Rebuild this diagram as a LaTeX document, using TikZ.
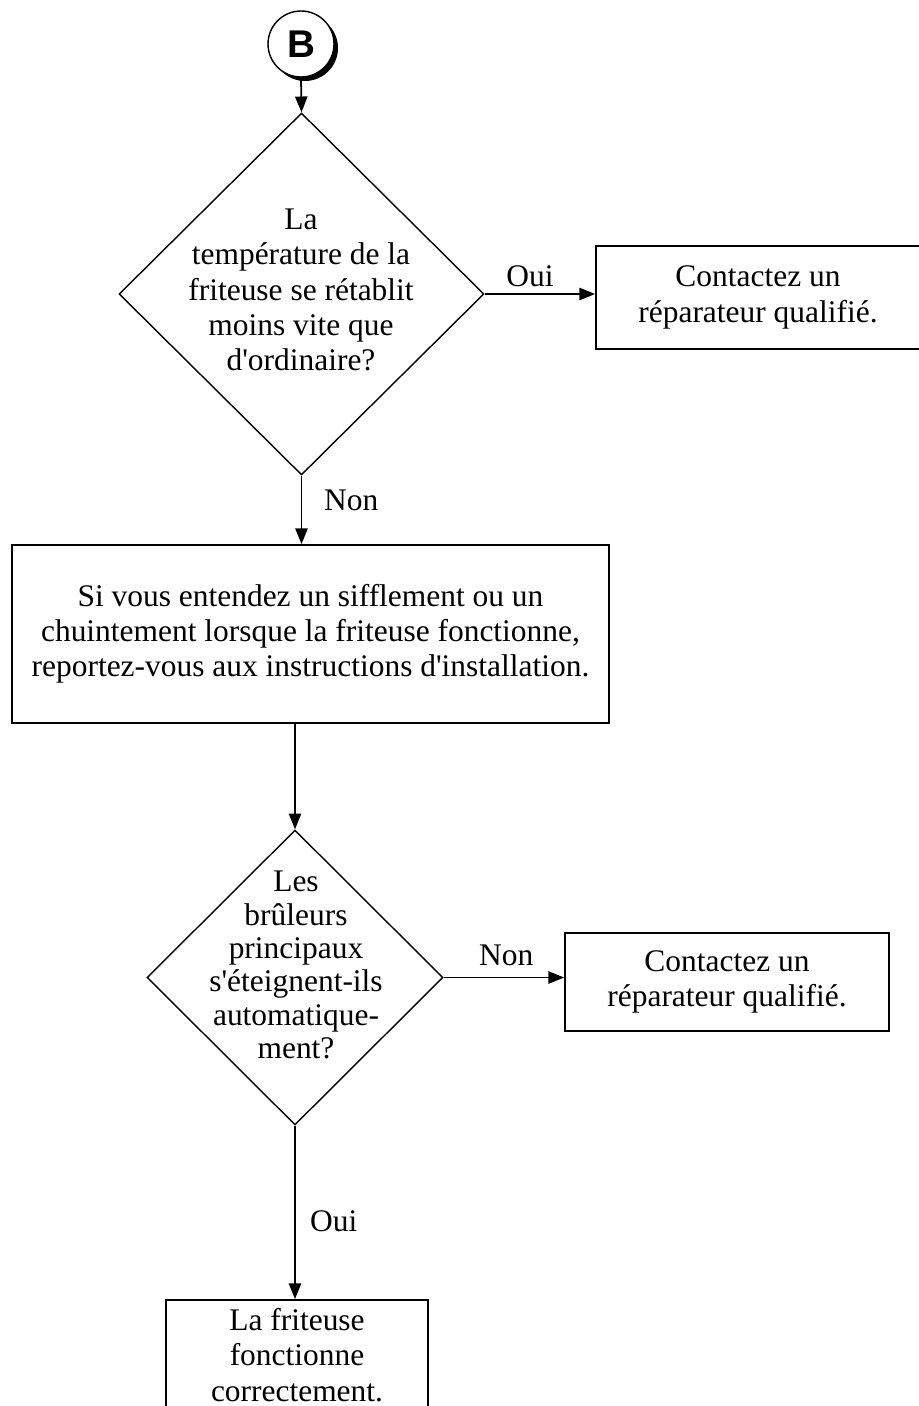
\documentclass[tikz,border=0pt]{standalone}
\usepackage{fontspec}
\setmainfont{Liberation Serif}[Ligatures=TeXOff]
\newfontfamily\connsans{Liberation Sans}
\usetikzlibrary{shapes.geometric,arrows.meta}

\tikzset{
    box/.style={draw, line width=1pt, align=center, inner sep=0pt},
    decision/.style={draw, diamond, line width=0.8pt, inner sep=0pt, aspect=1},
    qtext/.style={align=center, inner sep=0pt},
    tag/.style={inner sep=0.333em},
    arr/.style={line width=1pt, -{Triangle[length=9pt,width=7pt]}},
}

\begin{document}
\begin{tikzpicture}[x=0.02cm, y=-0.02cm, font=\fontsize{17.9pt}{20pt}\selectfont]
    \clip (0,0) rectangle (919,1406);
    % connector B
    \fill (305,48) circle (33);
    \node[circle, draw, line width=0.8pt, fill=white, minimum size=1.32cm, inner sep=0pt,
          font=\connsans\bfseries\fontsize{22pt}{22pt}\selectfont] (B) at (301,44) {B};
    % first question
    \node[decision, minimum width=7.30cm, minimum height=7.24cm] (temp) at (301.5,294) {};
    \node[qtext] (temptxt) at (301,290) {La\\température de la\\friteuse se rétablit\\moins vite que\\d'ordinaire?};
    \node[box, minimum width=6.48cm, minimum height=2.06cm] (repair1) at (758,297.5) {Contactez un\\réparateur qualifié.};
    \node[box, minimum width=11.94cm, minimum height=3.56cm] (noise) at (310.5,634) {Si vous entendez un sifflement ou un\\chuintement lorsque la friteuse fonctionne,\\reportez-vous aux instructions d'installation.};
    % second question
    \node[decision, minimum width=5.92cm, minimum height=5.90cm] (burner) at (295,977.5) {};
    \node[qtext, font=\fontsize{17.9pt}{19pt}\selectfont] (burnertxt) at (296,965) {Les\\brûleurs\\principaux\\s'éteignent-ils\\automatique-\\ment?};
    \node[box, minimum width=6.48cm, minimum height=1.96cm] (repair2) at (727,982) {Contactez un\\réparateur qualifié.};
    \node[box, minimum width=5.24cm, minimum height=2.2cm] (ok) at (297,1355) {La friteuse\\fonctionne\\correctement.};

    % arrows
    \draw[arr] (B.south) -- (temp.north);
    \draw[arr] (temp.east) -- (temp.east -| repair1.west) node[tag, above, pos=0.41] (oui1) {Oui};
    \draw[arr] (temp.south) -- (temp.south |- noise.north) node[tag, anchor=west, pos=0.36, xshift=0.32cm] (non1) {Non};
    \draw[arr] (burner.north |- noise.south) -- (burner.north);
    \draw[arr] (burner.east) -- (burner.east -| repair2.west) node[tag, above, pos=0.52, yshift=0.1cm] (non2) {Non};
    \draw[arr] (burner.south) -- (burner.south |- ok.north) node[tag, anchor=west, pos=0.55, xshift=0.17cm] (oui2) {Oui};
\end{tikzpicture}
\end{document}
